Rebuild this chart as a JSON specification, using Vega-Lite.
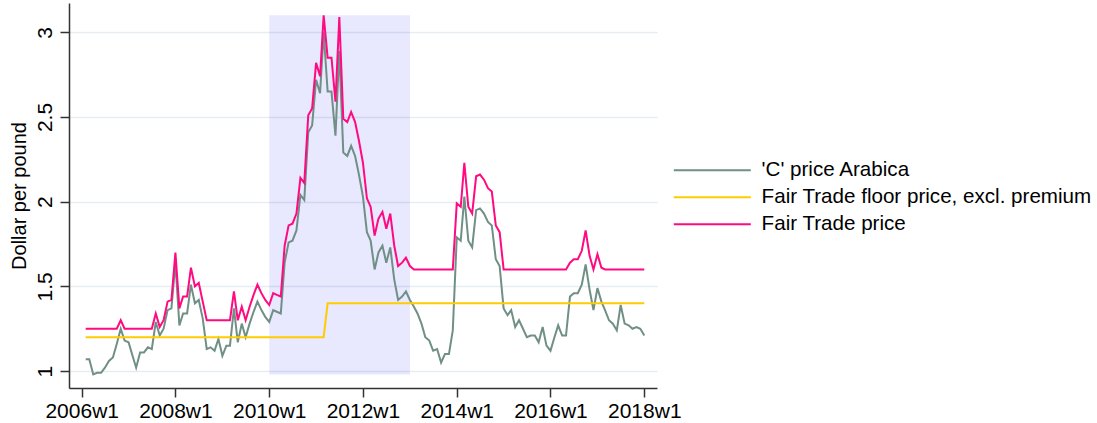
{
  "$schema": "https://vega.github.io/schema/vega-lite/v6.json",
  "width": 588,
  "height": 385,
  "autosize": {"type": "none"},
  "padding": {"left": 69, "top": 3, "right": 440, "bottom": 35},
  "background": "white",
  "config": {
    "font": "Liberation Sans",
    "view": {"stroke": null},
    "axis": {
      "labelFont": "Liberation Sans",
      "titleFont": "Liberation Sans",
      "labelColor": "#000000",
      "titleColor": "#000000",
      "domainColor": "#333333",
      "tickColor": "#333333",
      "domainWidth": 1.5,
      "tickWidth": 1.5,
      "tickSize": 9,
      "labelFontSize": 21,
      "titleFontSize": 20,
      "titleFontWeight": "normal"
    },
    "legend": {"labelFont": "Liberation Sans", "labelColor": "#000000"}
  },
  "datasets": {
    "shade": [{"start": "2010-01-01", "end": "2013-01-01", "lo": 0.98, "hi": 3.1}],
    "prices": [
      {"d": "2006-02-01", "c": 1.07, "f": 1.2, "p": 1.25},
      {"d": "2006-03-01", "c": 1.07, "f": 1.2, "p": 1.25},
      {"d": "2006-04-01", "c": 0.98, "f": 1.2, "p": 1.25},
      {"d": "2006-05-01", "c": 0.99, "f": 1.2, "p": 1.25},
      {"d": "2006-06-01", "c": 0.99, "f": 1.2, "p": 1.25},
      {"d": "2006-07-01", "c": 1.02, "f": 1.2, "p": 1.25},
      {"d": "2006-08-01", "c": 1.06, "f": 1.2, "p": 1.25},
      {"d": "2006-09-01", "c": 1.08, "f": 1.2, "p": 1.25},
      {"d": "2006-10-01", "c": 1.16, "f": 1.2, "p": 1.25},
      {"d": "2006-11-01", "c": 1.25, "f": 1.2, "p": 1.30},
      {"d": "2006-12-01", "c": 1.18, "f": 1.2, "p": 1.25},
      {"d": "2007-01-01", "c": 1.17, "f": 1.2, "p": 1.25},
      {"d": "2007-02-01", "c": 1.09, "f": 1.2, "p": 1.25},
      {"d": "2007-03-01", "c": 1.02, "f": 1.2, "p": 1.25},
      {"d": "2007-04-01", "c": 1.11, "f": 1.2, "p": 1.25},
      {"d": "2007-05-01", "c": 1.11, "f": 1.2, "p": 1.25},
      {"d": "2007-06-01", "c": 1.14, "f": 1.2, "p": 1.25},
      {"d": "2007-07-01", "c": 1.13, "f": 1.2, "p": 1.25},
      {"d": "2007-08-01", "c": 1.29, "f": 1.2, "p": 1.34},
      {"d": "2007-09-01", "c": 1.21, "f": 1.2, "p": 1.26},
      {"d": "2007-10-01", "c": 1.25, "f": 1.2, "p": 1.30},
      {"d": "2007-11-01", "c": 1.36, "f": 1.2, "p": 1.41},
      {"d": "2007-12-01", "c": 1.37, "f": 1.2, "p": 1.42},
      {"d": "2008-01-01", "c": 1.64, "f": 1.2, "p": 1.70},
      {"d": "2008-02-01", "c": 1.27, "f": 1.2, "p": 1.37},
      {"d": "2008-03-01", "c": 1.34, "f": 1.2, "p": 1.44},
      {"d": "2008-04-01", "c": 1.34, "f": 1.2, "p": 1.44},
      {"d": "2008-05-01", "c": 1.51, "f": 1.2, "p": 1.61},
      {"d": "2008-06-01", "c": 1.40, "f": 1.2, "p": 1.50},
      {"d": "2008-07-01", "c": 1.42, "f": 1.2, "p": 1.52},
      {"d": "2008-08-01", "c": 1.31, "f": 1.2, "p": 1.41},
      {"d": "2008-09-01", "c": 1.13, "f": 1.2, "p": 1.30},
      {"d": "2008-10-01", "c": 1.14, "f": 1.2, "p": 1.30},
      {"d": "2008-11-01", "c": 1.12, "f": 1.2, "p": 1.30},
      {"d": "2008-12-01", "c": 1.19, "f": 1.2, "p": 1.30},
      {"d": "2009-01-01", "c": 1.09, "f": 1.2, "p": 1.30},
      {"d": "2009-02-01", "c": 1.15, "f": 1.2, "p": 1.30},
      {"d": "2009-03-01", "c": 1.15, "f": 1.2, "p": 1.30},
      {"d": "2009-04-01", "c": 1.37, "f": 1.2, "p": 1.47},
      {"d": "2009-05-01", "c": 1.17, "f": 1.2, "p": 1.30},
      {"d": "2009-06-01", "c": 1.28, "f": 1.2, "p": 1.38},
      {"d": "2009-07-01", "c": 1.20, "f": 1.2, "p": 1.30},
      {"d": "2009-08-01", "c": 1.28, "f": 1.2, "p": 1.38},
      {"d": "2009-09-01", "c": 1.35, "f": 1.2, "p": 1.45},
      {"d": "2009-10-01", "c": 1.41, "f": 1.2, "p": 1.51},
      {"d": "2009-11-01", "c": 1.36, "f": 1.2, "p": 1.46},
      {"d": "2009-12-01", "c": 1.32, "f": 1.2, "p": 1.42},
      {"d": "2010-01-01", "c": 1.29, "f": 1.2, "p": 1.39},
      {"d": "2010-02-01", "c": 1.36, "f": 1.2, "p": 1.46},
      {"d": "2010-03-01", "c": 1.35, "f": 1.2, "p": 1.45},
      {"d": "2010-04-01", "c": 1.34, "f": 1.2, "p": 1.44},
      {"d": "2010-05-01", "c": 1.64, "f": 1.2, "p": 1.74},
      {"d": "2010-06-01", "c": 1.76, "f": 1.2, "p": 1.86},
      {"d": "2010-07-01", "c": 1.77, "f": 1.2, "p": 1.87},
      {"d": "2010-08-01", "c": 1.83, "f": 1.2, "p": 1.93},
      {"d": "2010-09-01", "c": 2.04, "f": 1.2, "p": 2.14},
      {"d": "2010-10-01", "c": 2.01, "f": 1.2, "p": 2.11},
      {"d": "2010-11-01", "c": 2.41, "f": 1.2, "p": 2.51},
      {"d": "2010-12-01", "c": 2.45, "f": 1.2, "p": 2.55},
      {"d": "2011-01-01", "c": 2.72, "f": 1.2, "p": 2.82},
      {"d": "2011-02-01", "c": 2.64, "f": 1.2, "p": 2.74},
      {"d": "2011-03-01", "c": 3.00, "f": 1.2, "p": 3.10},
      {"d": "2011-04-01", "c": 2.65, "f": 1.4, "p": 2.85},
      {"d": "2011-05-01", "c": 2.65, "f": 1.4, "p": 2.85},
      {"d": "2011-06-01", "c": 2.39, "f": 1.4, "p": 2.59},
      {"d": "2011-07-01", "c": 2.89, "f": 1.4, "p": 3.09},
      {"d": "2011-08-01", "c": 2.29, "f": 1.4, "p": 2.49},
      {"d": "2011-09-01", "c": 2.27, "f": 1.4, "p": 2.47},
      {"d": "2011-10-01", "c": 2.33, "f": 1.4, "p": 2.53},
      {"d": "2011-11-01", "c": 2.27, "f": 1.4, "p": 2.47},
      {"d": "2011-12-01", "c": 2.16, "f": 1.4, "p": 2.36},
      {"d": "2012-01-01", "c": 2.03, "f": 1.4, "p": 2.23},
      {"d": "2012-02-01", "c": 1.82, "f": 1.4, "p": 2.02},
      {"d": "2012-03-01", "c": 1.77, "f": 1.4, "p": 1.97},
      {"d": "2012-04-01", "c": 1.60, "f": 1.4, "p": 1.80},
      {"d": "2012-05-01", "c": 1.70, "f": 1.4, "p": 1.90},
      {"d": "2012-06-01", "c": 1.74, "f": 1.4, "p": 1.94},
      {"d": "2012-07-01", "c": 1.64, "f": 1.4, "p": 1.84},
      {"d": "2012-08-01", "c": 1.73, "f": 1.4, "p": 1.93},
      {"d": "2012-09-01", "c": 1.54, "f": 1.4, "p": 1.74},
      {"d": "2012-10-01", "c": 1.42, "f": 1.4, "p": 1.62},
      {"d": "2012-11-01", "c": 1.44, "f": 1.4, "p": 1.64},
      {"d": "2012-12-01", "c": 1.47, "f": 1.4, "p": 1.67},
      {"d": "2013-01-01", "c": 1.42, "f": 1.4, "p": 1.62},
      {"d": "2013-02-01", "c": 1.38, "f": 1.4, "p": 1.60},
      {"d": "2013-03-01", "c": 1.34, "f": 1.4, "p": 1.60},
      {"d": "2013-04-01", "c": 1.28, "f": 1.4, "p": 1.60},
      {"d": "2013-05-01", "c": 1.20, "f": 1.4, "p": 1.60},
      {"d": "2013-06-01", "c": 1.18, "f": 1.4, "p": 1.60},
      {"d": "2013-07-01", "c": 1.12, "f": 1.4, "p": 1.60},
      {"d": "2013-08-01", "c": 1.13, "f": 1.4, "p": 1.60},
      {"d": "2013-09-01", "c": 1.05, "f": 1.4, "p": 1.60},
      {"d": "2013-10-01", "c": 1.10, "f": 1.4, "p": 1.60},
      {"d": "2013-11-01", "c": 1.10, "f": 1.4, "p": 1.60},
      {"d": "2013-12-01", "c": 1.24, "f": 1.4, "p": 1.60},
      {"d": "2014-01-01", "c": 1.79, "f": 1.4, "p": 1.99},
      {"d": "2014-02-01", "c": 1.77, "f": 1.4, "p": 1.97},
      {"d": "2014-03-01", "c": 2.03, "f": 1.4, "p": 2.23},
      {"d": "2014-04-01", "c": 1.77, "f": 1.4, "p": 1.97},
      {"d": "2014-05-01", "c": 1.73, "f": 1.4, "p": 1.93},
      {"d": "2014-06-01", "c": 1.95, "f": 1.4, "p": 2.15},
      {"d": "2014-07-01", "c": 1.96, "f": 1.4, "p": 2.16},
      {"d": "2014-08-01", "c": 1.93, "f": 1.4, "p": 2.13},
      {"d": "2014-09-01", "c": 1.88, "f": 1.4, "p": 2.08},
      {"d": "2014-10-01", "c": 1.86, "f": 1.4, "p": 2.06},
      {"d": "2014-11-01", "c": 1.66, "f": 1.4, "p": 1.86},
      {"d": "2014-12-01", "c": 1.62, "f": 1.4, "p": 1.82},
      {"d": "2015-01-01", "c": 1.37, "f": 1.4, "p": 1.60},
      {"d": "2015-02-01", "c": 1.33, "f": 1.4, "p": 1.60},
      {"d": "2015-03-01", "c": 1.36, "f": 1.4, "p": 1.60},
      {"d": "2015-04-01", "c": 1.26, "f": 1.4, "p": 1.60},
      {"d": "2015-05-01", "c": 1.30, "f": 1.4, "p": 1.60},
      {"d": "2015-06-01", "c": 1.25, "f": 1.4, "p": 1.60},
      {"d": "2015-07-01", "c": 1.20, "f": 1.4, "p": 1.60},
      {"d": "2015-08-01", "c": 1.21, "f": 1.4, "p": 1.60},
      {"d": "2015-09-01", "c": 1.21, "f": 1.4, "p": 1.60},
      {"d": "2015-10-01", "c": 1.17, "f": 1.4, "p": 1.60},
      {"d": "2015-11-01", "c": 1.26, "f": 1.4, "p": 1.60},
      {"d": "2015-12-01", "c": 1.15, "f": 1.4, "p": 1.60},
      {"d": "2016-01-01", "c": 1.12, "f": 1.4, "p": 1.60},
      {"d": "2016-02-01", "c": 1.20, "f": 1.4, "p": 1.60},
      {"d": "2016-03-01", "c": 1.27, "f": 1.4, "p": 1.60},
      {"d": "2016-04-01", "c": 1.21, "f": 1.4, "p": 1.60},
      {"d": "2016-05-01", "c": 1.21, "f": 1.4, "p": 1.60},
      {"d": "2016-06-01", "c": 1.44, "f": 1.4, "p": 1.64},
      {"d": "2016-07-01", "c": 1.46, "f": 1.4, "p": 1.66},
      {"d": "2016-08-01", "c": 1.46, "f": 1.4, "p": 1.66},
      {"d": "2016-09-01", "c": 1.51, "f": 1.4, "p": 1.71},
      {"d": "2016-10-01", "c": 1.63, "f": 1.4, "p": 1.83},
      {"d": "2016-11-01", "c": 1.48, "f": 1.4, "p": 1.68},
      {"d": "2016-12-01", "c": 1.36, "f": 1.4, "p": 1.60},
      {"d": "2017-01-01", "c": 1.49, "f": 1.4, "p": 1.69},
      {"d": "2017-02-01", "c": 1.41, "f": 1.4, "p": 1.61},
      {"d": "2017-03-01", "c": 1.36, "f": 1.4, "p": 1.60},
      {"d": "2017-04-01", "c": 1.30, "f": 1.4, "p": 1.60},
      {"d": "2017-05-01", "c": 1.28, "f": 1.4, "p": 1.60},
      {"d": "2017-06-01", "c": 1.24, "f": 1.4, "p": 1.60},
      {"d": "2017-07-01", "c": 1.39, "f": 1.4, "p": 1.60},
      {"d": "2017-08-01", "c": 1.28, "f": 1.4, "p": 1.60},
      {"d": "2017-09-01", "c": 1.27, "f": 1.4, "p": 1.60},
      {"d": "2017-10-01", "c": 1.25, "f": 1.4, "p": 1.60},
      {"d": "2017-11-01", "c": 1.26, "f": 1.4, "p": 1.60},
      {"d": "2017-12-01", "c": 1.25, "f": 1.4, "p": 1.60},
      {"d": "2018-01-01", "c": 1.21, "f": 1.4, "p": 1.60}
    ]
  },
  "layer": [
    {
      "data": {"name": "shade"},
      "mark": {"type": "rect", "color": "#0000ff", "opacity": 0.09},
      "encoding": {
        "x": {
          "field": "start", "type": "temporal",
          "scale": {"type": "utc", "domain": [{"year": 2005, "month": 9, "date": 24, "utc": true}, {"year": 2018, "month": 4, "date": 10, "utc": true}]},
          "axis": {
            "title": null, "grid": false,
            "values": [{"year": 2006, "utc": true}, {"year": 2008, "utc": true}, {"year": 2010, "utc": true}, {"year": 2012, "utc": true}, {"year": 2014, "utc": true}, {"year": 2016, "utc": true}, {"year": 2018, "utc": true}],
            "labelExpr": "utcFormat(datum.value, '%Y') + 'w1'",
            "labelPadding": 3,
            "labelFlush": false,
            "labelOverlap": false
          }
        },
        "x2": {"field": "end"},
        "y": {
          "field": "lo", "type": "quantitative",
          "scale": {"domain": [0.9, 3.173], "nice": false, "zero": false},
          "axis": {
            "title": "Dollar per pound",
            "values": [1, 1.5, 2, 2.5, 3],
            "format": "~g",
            "labelAngle": -90,
            "labelAlign": "center",
            "labelBaseline": "bottom",
            "labelPadding": 5,
            "titlePadding": 5,
            "grid": true,
            "gridColor": "#e6edf1",
            "gridWidth": 1.5
          }
        },
        "y2": {"field": "hi"}
      }
    },
    {
      "data": {"name": "prices"},
      "transform": [{"fold": ["c", "f", "p"], "as": ["k", "v"]}],
      "mark": {"type": "line", "strokeWidth": 2},
      "encoding": {
        "x": {"field": "d", "type": "temporal"},
        "y": {"field": "v", "type": "quantitative"},
        "color": {
          "field": "k", "type": "nominal",
          "scale": {"domain": ["c", "f", "p"], "range": ["#708f85", "#ffcc00", "#ff0a80"]},
          "legend": {
            "title": null,
            "orient": "none",
            "legendX": 633,
            "legendY": 157,
            "labelExpr": "datum.label == 'c' ? \"'C' price Arabica\" : (datum.label == 'f' ? 'Fair Trade floor price, excl. premium' : 'Fair Trade price')",
            "symbolType": "M-7.7,0H7.7",
            "symbolSize": 100,
            "symbolStrokeWidth": 2,
            "labelFontSize": 20.6,
            "labelOffset": 39,
            "labelLimit": 1000,
            "rowPadding": 6,
            "padding": 0
          }
        }
      }
    }
  ]
}
